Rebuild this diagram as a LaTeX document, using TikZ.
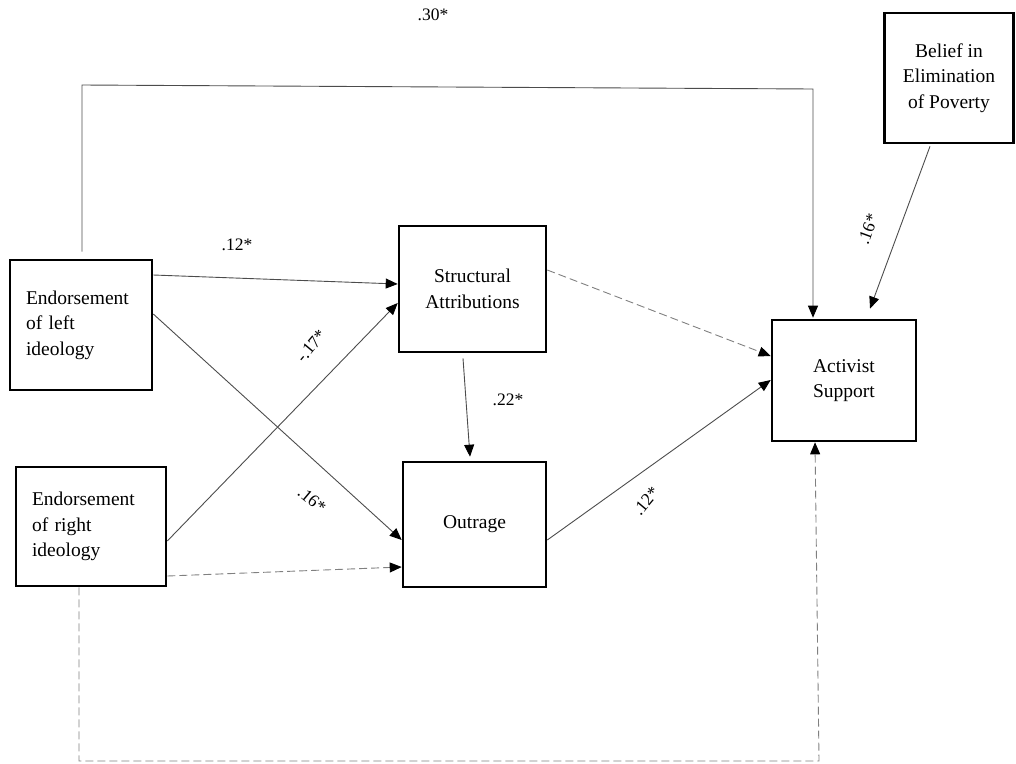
\documentclass[tikz,border=0pt]{standalone}
\usepackage{fontspec}
\setmainfont{Liberation Serif}
\usetikzlibrary{arrows.meta}
\begin{document}
\begin{tikzpicture}[x=1pt,y=-1pt,
  box/.style={draw=black,line width=2.6pt,rectangle,inner xsep=16pt,inner ysep=0pt,
    font=\fontsize{19.5}{25.5}\selectfont},
  conn/.style={draw=black!70,line width=0.9pt,-{Triangle[length=12pt,width=10pt,color=black]}},
  dconn/.style={draw=black!50,line width=0.9pt,dash pattern=on 8pt off 4pt,-{Triangle[length=12pt,width=10pt,color=black]}},
  lab/.style={font=\fontsize{17.5}{20}\selectfont,inner sep=0pt}]
\useasboundingbox (0,0) rectangle (1016,763);
\node[box,minimum width=142pt,minimum height=130pt,text width=110pt,align=left] (L) at (81,325) {Endorsement\\of left\\ideology};
\node[box,minimum width=150pt,minimum height=119pt,text width=118pt,align=left] (R) at (91,526.5) {Endorsement\\of right\\ideology};
\node[box,minimum width=147pt,minimum height=126pt,align=center] (S) at (472.5,289) {Structural\\Attributions};
\node[box,minimum width=143pt,minimum height=125pt,align=center] (O) at (474.5,524.5) {Outrage};
\node[box,minimum width=144pt,minimum height=121pt,align=center] (A) at (844,380.5) {Activist\\Support};
\node[box,minimum width=129pt,minimum height=130pt,inner xsep=4pt,align=center] (B) at (949,78) {Belief in\\Elimination\\of Poverty};
\coordinate (tl) at (82,85);
\coordinate (tr) at (813,89);
\coordinate (bl) at (79,761);
\coordinate (br) at (819,761);
% connectors
\draw[conn] ([xshift=1pt,yshift=7pt]L.north) -- (tl) -- (tr) -- ([xshift=-31pt,yshift=1pt]A.north);
\draw[conn] ([yshift=50pt]L.east) -- ([yshift=5pt]S.west);
\draw[conn] ([yshift=11pt]L.east) -- ([yshift=-15.5pt]O.west);
\draw[conn] ([yshift=-14.5pt]R.east) -- ([yshift=-14pt]S.west);
\draw[dconn] ([yshift=-49.5pt]R.east) -- ([yshift=-42.5pt]O.west);
\draw[conn] ([xshift=-9.5pt,yshift=-5pt]S.south) -- ([xshift=-4.5pt,yshift=4pt]O.north);
\draw[dconn] ([yshift=19pt]S.east) -- ([yshift=24.5pt]A.west);
\draw[conn] ([yshift=-15.5pt]O.east) -- ([yshift=0.5pt]A.west);
\draw[conn] ([xshift=-19pt,yshift=-2pt]B.south) -- ([xshift=26pt,yshift=10pt]A.north);
\draw[dconn] ([xshift=-12pt]R.south) -- (bl) -- (br) -- ([xshift=-29pt]A.south);
% labels
\node[lab] (l30) at (433,15) {.30*};
\node[lab] (l12a) at (237,245) {.12*};
\node[lab,rotate=50] (l17) at (311,346) {-.17*};
\node[lab,rotate=-40] (l16a) at (312,500) {.16*};
\node[lab] (l22) at (508,400) {.22*};
\node[lab,rotate=50] (l12b) at (646,501) {.12*};
\node[lab,rotate=70] (l16b) at (868,229) {.16*};
\end{tikzpicture}
\end{document}
